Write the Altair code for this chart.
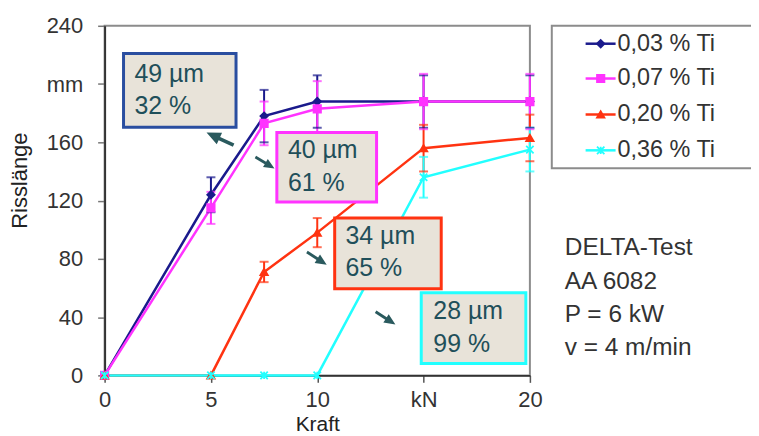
import altair as alt
import pandas as pd

# ---- data ----
kraft = [0, 5, 7.5, 10, 15, 20]
series = ["0,03 % Ti", "0,07 % Ti", "0,20 % Ti", "0,36 % Ti"]
ti003 = [0, 124, 178, 188, 188, 188]
ti003_err = [0, 12, 18, 18, 18, 18]
ti007 = [0, 115, 173, 183, 188, 188]
ti007_err = [0, 11, 15, 19, 19, 19]
ti020 = [0, 0, 71, 98, 156, 163]
ti020_err = [0, 0, 7, 10, 16, 16]
ti036 = [0, 0, 0, 0, 136, 155]
ti036_err = [0, 0, 0, 0, 14, 15]

colors = ["#1a1a8c", "#ff33ff", "#ff3311", "#22ffff"]
star = "M-1,-1L1,1M-1,1L1,-1M0,-1L0,1"
shapes = ["diamond", "square", "triangle-up", star]
sizes = [55, 55, 70, 90]

# annotation boxes (data units)
box_x1 = [0.89, 8.10, 10.82, 14.89]
box_x2 = [6.18, 12.79, 15.83, 19.81]
box_y1 = [220.9, 166.8, 108.0, 56.8]
box_y2 = [170.3, 119.0, 59.5, 8.2]
box_line1 = ["49 µm", "40 µm", "34 µm", "28 µm"]
box_line2 = ["32 %", "61 %", "65 %", "99 %"]
box_tx = [1.40, 8.62, 11.33, 15.46]
box_ty1 = [207.0, 154.5, 95.7, 44.4]
box_ty2 = [184.6, 132.0, 73.8, 21.2]

arrow_x = [5.43, 7.54, 9.98, 13.21]
arrow_y = [162.4, 146.0, 80.3, 39.3]
arrow_angle = [295, 121, 123, 123]
arrow_size = [900, 500, 560, 560]

info_lines = ["DELTA-Test", "AA 6082", "P = 6 kW", "v = 4 m/min"]
info_y = [87.2, 64.0, 41.4, 18.8]
info_x = 21.64

legend_y = [227.7, 203.8, 179.1, 154.5]

FONT = "Liberation Sans"

# ---- tables ----
rows = []
for name, vals, errs in [(series[0], ti003, ti003_err), (series[1], ti007, ti007_err),
                         (series[2], ti020, ti020_err), (series[3], ti036, ti036_err)]:
    for x, v, e in zip(kraft, vals, errs):
        rows.append({"series": name, "x": x, "y": v, "lo": v - e, "hi": v + e, "err": e})
df = pd.DataFrame(rows)
err_df = df[df["err"] > 0]

xs = alt.Scale(domain=[0, 20], nice=False, zero=False)
ys = alt.Scale(domain=[0, 240], nice=False)
cs = alt.Scale(domain=series, range=colors)
ss = alt.Scale(domain=series, range=shapes)
zs = alt.Scale(domain=series, range=sizes)

X = alt.X("x:Q", scale=xs, title="Kraft",
          axis=alt.Axis(values=[0, 5, 10, 15, 20],
                        labelExpr="datum.value == 15 ? 'kN' : datum.label",
                        tickSize=7, labelPadding=7, titlePadding=3, labelFlush=False,
                        titleFontSize=21,
                        domainColor="#333333", domainWidth=2, tickColor="#555555",
                        tickWidth=1.5, grid=False))
Y = alt.Y("y:Q", scale=ys, title="Risslänge",
          axis=alt.Axis(values=[0, 40, 80, 120, 160, 200, 240],
                        labelExpr="datum.value == 200 ? 'mm' : datum.label",
                        tickSize=7, labelPadding=15, labelFlush=False,
                        domainColor="#333333", domainWidth=2, tickColor="#777777",
                        tickWidth=1.5, grid=False, titleX=-73, titleY=155))

base = alt.Chart(df)
lines = base.mark_line(strokeWidth=2.5).encode(
    x=X, y=Y, color=alt.Color("series:N", scale=cs, legend=None),
    detail="series:N", order="x:Q")

err_base = alt.Chart(err_df)
err_rule = err_base.mark_rule(strokeWidth=2).encode(
    x=alt.X("x:Q", scale=xs), y=alt.Y("lo:Q", scale=ys), y2="hi:Q",
    color=alt.Color("series:N", scale=cs, legend=None))
err_top = err_base.mark_tick(orient="horizontal", size=9, thickness=2).encode(
    x=alt.X("x:Q", scale=xs), y=alt.Y("hi:Q", scale=ys),
    color=alt.Color("series:N", scale=cs, legend=None))
err_bot = err_base.mark_tick(orient="horizontal", size=9, thickness=2).encode(
    x=alt.X("x:Q", scale=xs), y=alt.Y("lo:Q", scale=ys),
    color=alt.Color("series:N", scale=cs, legend=None))

points = base.mark_point(filled=True, strokeWidth=1.8, opacity=1).encode(
    x=alt.X("x:Q", scale=xs), y=alt.Y("y:Q", scale=ys),
    fill=alt.Fill("series:N", scale=cs, legend=None),
    stroke=alt.Stroke("series:N", scale=cs, legend=None),
    shape=alt.Shape("series:N", scale=ss, legend=None),
    size=alt.Size("series:N", scale=zs, legend=None))

# legend (manual)
leg_df = pd.DataFrame({"series": series, "ly": legend_y,
                       "lx1": [22.62] * 4, "lx2": [24.03] * 4, "mx": [23.33] * 4,
                       "tx": [24.12] * 4})
leg_box = alt.Chart(pd.DataFrame({"a": [21.03], "b": [30.54], "c": [240.0], "d": [142.2]})).mark_rect(
    fill="white", stroke="#8c8c8c", strokeWidth=2).encode(
    x=alt.X("a:Q", scale=xs), x2="b:Q", y=alt.Y("c:Q", scale=ys), y2="d:Q")
leg_line = alt.Chart(leg_df).mark_rule(strokeWidth=2.5).encode(
    x=alt.X("lx1:Q", scale=xs), x2="lx2:Q", y=alt.Y("ly:Q", scale=ys),
    color=alt.Color("series:N", scale=cs, legend=None))
leg_pt = alt.Chart(leg_df).mark_point(filled=True, strokeWidth=1.8, opacity=1).encode(
    x=alt.X("mx:Q", scale=xs), y=alt.Y("ly:Q", scale=ys),
    fill=alt.Fill("series:N", scale=cs, legend=None),
    stroke=alt.Stroke("series:N", scale=cs, legend=None),
    shape=alt.Shape("series:N", scale=ss, legend=None),
    size=alt.Size("series:N", scale=zs, legend=None))
leg_txt = alt.Chart(leg_df).mark_text(align="left", baseline="middle", font=FONT,
                                      fontSize=23.5, color="#333333").encode(
    x=alt.X("tx:Q", scale=xs), y=alt.Y("ly:Q", scale=ys), text="series:N")

# annotation boxes
box_df = pd.DataFrame({"series": series, "x1": box_x1, "x2": box_x2, "y1": box_y1, "y2": box_y2,
                       "tx": box_tx, "ty1": box_ty1, "ty2": box_ty2,
                       "l1": box_line1, "l2": box_line2})
boxes = alt.Chart(box_df).mark_rect(fill="#e8e3d9", strokeWidth=3).encode(
    x=alt.X("x1:Q", scale=xs), x2="x2:Q", y=alt.Y("y1:Q", scale=ys), y2="y2:Q",
    stroke=alt.Stroke("series:N", scale=alt.Scale(domain=series,
                      range=["#2a4ea0", "#ff33ff", "#ff3311", "#22ffff"]), legend=None))
bt1 = alt.Chart(box_df).mark_text(align="left", baseline="middle", font=FONT, fontSize=25,
                                  color="#1f4f5a").encode(
    x=alt.X("tx:Q", scale=xs), y=alt.Y("ty1:Q", scale=ys), text="l1:N")
bt2 = alt.Chart(box_df).mark_text(align="left", baseline="middle", font=FONT, fontSize=25,
                                  color="#1f4f5a").encode(
    x=alt.X("tx:Q", scale=xs), y=alt.Y("ty2:Q", scale=ys), text="l2:N")

arrow_path = "M-0.12,1L-0.12,-0.05L-0.42,-0.05L0,-1L0.42,-0.05L0.12,-0.05L0.12,1Z"
arr_df = pd.DataFrame({"ax": arrow_x, "ay": arrow_y, "ang": arrow_angle, "sz": arrow_size})
arrows = alt.Chart(arr_df).mark_point(shape=arrow_path, filled=True, color="#2a5a5e",
                                      opacity=1).encode(
    x=alt.X("ax:Q", scale=xs), y=alt.Y("ay:Q", scale=ys),
    angle=alt.Angle("ang:Q", scale=None), size=alt.Size("sz:Q", scale=None))

info_df = pd.DataFrame({"t": info_lines, "iy": info_y, "ix": [info_x] * 4})
info = alt.Chart(info_df).mark_text(align="left", baseline="middle", font=FONT, fontSize=24.5,
                                    color="#333333").encode(
    x=alt.X("ix:Q", scale=xs), y=alt.Y("iy:Q", scale=ys), text="t:N")

chart = alt.layer(lines, err_rule, err_top, err_bot, points,
                  boxes, bt1, bt2, arrows,
                  leg_box, leg_line, leg_pt, leg_txt, info).resolve_scale(
    stroke="independent").properties(
    width=427, height=351,
    autosize=alt.AutoSizeParams(type="none"),
    padding={"left": 97, "top": 17, "right": 222, "bottom": 60},
).configure_view(stroke="#8c8c8c", strokeWidth=2).configure_axis(
    labelFont=FONT, labelFontSize=22, labelColor="#333333",
    titleFont=FONT, titleFontSize=22, titleColor="#222222", titleFontWeight="normal")

chart.save("out.html", embed_options={"renderer": "svg", "actions": False})
